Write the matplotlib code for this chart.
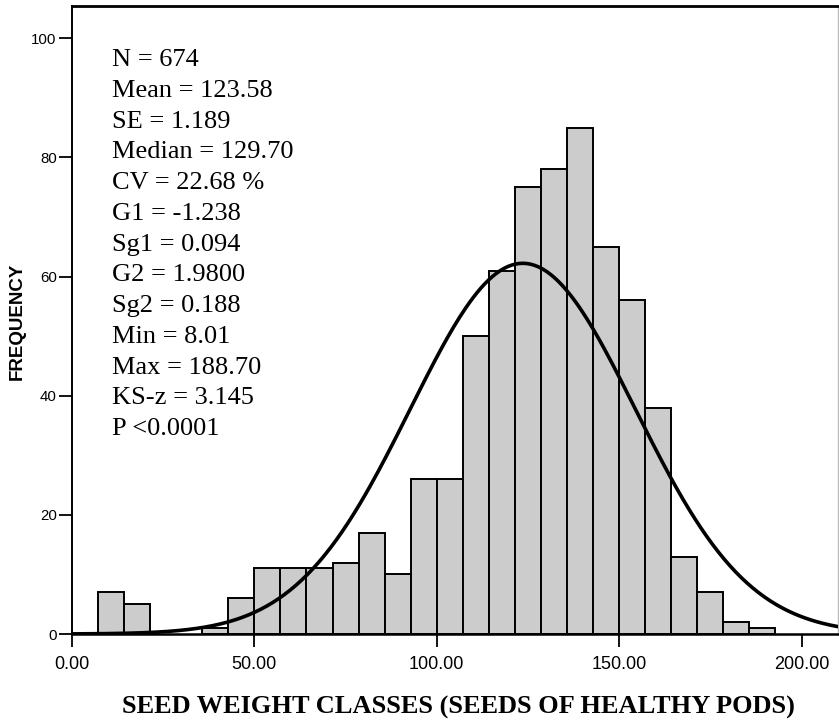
import numpy as np
import matplotlib
matplotlib.use("Agg")
import matplotlib.pyplot as plt

# histogram classes (width 50/7) and their counts
bin_width = 50.0 / 7.0
bin_edges = np.arange(0, 29) * bin_width
counts = [0, 7, 5, 0, 0, 1, 6, 11, 11, 11, 12, 17, 10, 26,
          26, 50, 61, 75, 78, 85, 65, 56, 38, 13, 7, 2, 1, 0]

# summary statistics printed in the chart
stats_lines = ["N = 674", "Mean = 123.58", "SE = 1.189", "Median = 129.70",
               "CV = 22.68 %", "G1 = -1.238", "Sg1 = 0.094", "G2 = 1.9800",
               "Sg2 = 0.188", "Min = 8.01", "Max = 188.70", "KS-z = 3.145",
               "P <0.0001"]
n_obs = 674
mean_val = 123.58
sd_val = 30.87  # 1.189 * sqrt(674)

x_ticks = [0, 50, 100, 150, 200]
y_ticks = [0, 20, 40, 60, 80, 100]

fig = plt.figure(figsize=(8.39, 7.24), dpi=100)
ax = fig.add_axes([72 / 839, 1 - 634 / 724, 766 / 839, 628 / 724])

lefts = bin_edges[:-1]
keep = [i for i, c in enumerate(counts) if c > 0]
ax.bar([lefts[i] for i in keep], [counts[i] for i in keep], width=bin_width,
       align="edge", color="#cccccc", edgecolor="black", linewidth=1.4, zorder=2)

xs = np.linspace(0, 211, 400)
ys = n_obs * bin_width / (sd_val * np.sqrt(2 * np.pi)) * np.exp(-0.5 * ((xs - mean_val) / sd_val) ** 2)
ax.plot(xs, ys, color="black", linewidth=2.6, zorder=3)

ax.set_xlim(0, 210.0)
ax.set_ylim(0, 105.4)
ax.set_xticks(x_ticks)
ax.set_xticklabels(["%.2f" % v for v in x_ticks])
ax.set_yticks(y_ticks)
ax.tick_params(direction="out", length=9.5, width=1.3)
ax.tick_params(axis="x", labelsize=13, pad=6.5)
ax.tick_params(axis="y", labelsize=10.8, pad=1.5)
for lab in ax.get_xticklabels() + ax.get_yticklabels():
    lab.set_family("Liberation Sans")

ax.spines["left"].set_linewidth(1.4)
ax.spines["bottom"].set_linewidth(1.8)
ax.spines["top"].set_linewidth(2.0)
ax.spines["right"].set_color("#bbbbbb")
ax.spines["right"].set_linewidth(1.0)

for k, line in enumerate(stats_lines):
    fig.text(112 / 839, 1 - (57.5 + k * 30.77) / 724, line, family="Liberation Serif",
             fontsize=19, va="center_baseline", ha="left")

fig.text(17 / 839, 1 - 321 / 724, "FREQUENCY", family="Liberation Sans",
         fontweight="bold", fontsize=13.5, rotation=90, va="center", ha="center")
fig.text(458 / 839, 1 - 707 / 724, "SEED WEIGHT CLASSES (SEEDS OF HEALTHY PODS)",
         family="Liberation Serif", fontweight="bold", fontsize=19,
         va="center", ha="center")

fig.savefig("out.png", dpi=100)
